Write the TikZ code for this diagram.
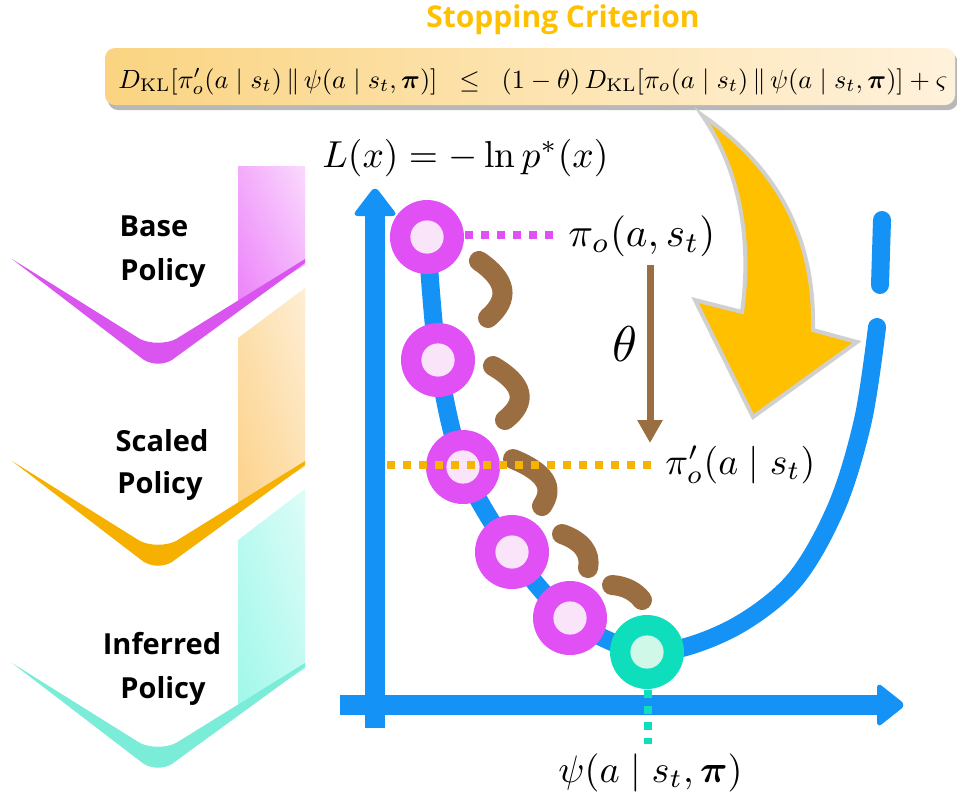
\documentclass[tikz,border=0pt]{standalone}
\usepackage{fontspec}
\usepackage{amsmath}
\usepackage{graphicx}
\newfontfamily\osans{Open Sans}
\usetikzlibrary{arrows.meta,shadings}
\definecolor{axblue}{RGB}{20,146,245}
\definecolor{magc}{RGB}{224,80,245}
\definecolor{magin}{RGB}{250,228,250}
\definecolor{tealc}{RGB}{14,222,188}
\definecolor{tealin}{RGB}{208,248,232}
\definecolor{brownc}{RGB}{155,110,65}
\definecolor{goldc}{RGB}{255,192,0}
\definecolor{orangedot}{RGB}{245,180,0}
\definecolor{chevP}{RGB}{218,84,240}
\definecolor{chevO}{RGB}{245,176,0}
\definecolor{chevT}{RGB}{122,236,216}
\definecolor{boxL}{RGB}{250,212,130}
\definecolor{boxR}{RGB}{255,242,220}
\definecolor{arrowborder}{RGB}{208,208,208}
\definecolor{pkLL}{RGB}{236,130,250}
\definecolor{pkUR}{RGB}{250,218,253}
\definecolor{pkM}{RGB}{243,172,251}
\definecolor{orLL}{RGB}{253,210,138}
\definecolor{orUR}{RGB}{254,238,212}
\definecolor{orM}{RGB}{253,224,175}
\definecolor{tlLL}{RGB}{160,248,234}
\definecolor{tlUR}{RGB}{222,252,248}
\definecolor{tlM}{RGB}{190,250,241}
\begin{document}
\begin{tikzpicture}[x=0.5pt,y=-0.5pt,
  pcirc/.style={circle, fill=magc, minimum size=37pt, inner sep=0pt,
    path picture={\fill[magin] (path picture bounding box.center) circle (8.3pt);}},
  tcirc/.style={circle, fill=tealc, minimum size=37pt, inner sep=0pt,
    path picture={\fill[tealin] (path picture bounding box.center) circle (8.3pt);}},
  dotline/.style={line width=4pt, dash pattern=on 4pt off 4pt},
  brownarc/.style={brownc, line width=10pt, line cap=round},
  bluecurve/.style={axblue, line width=9pt, line cap=round},
  axisline/.style={axblue, line width=10pt},
  policytext/.style={anchor=base, inner sep=0pt, font=\osans\bfseries\fontsize{14.5}{14.5}\selectfont},
  mathlabel/.style={anchor=base west, inner sep=0pt}]
\useasboundingbox (0,0) rectangle (957,799);
\fill[white] (0,0) rectangle (957,799);

% ---------- left panel ----------
\shade[lower left=pkLL, upper right=pkUR, upper left=pkM, lower right=pkM]
  (238,166) -- (305,166) -- (305,265) -- (238,305) -- cycle;
\shade[lower left=orLL, upper right=orUR, upper left=orM, lower right=orM]
  (238,338) -- (305,288) -- (305,467) -- (238,507) -- cycle;
\shade[lower left=tlLL, upper right=tlUR, upper left=tlM, lower right=tlM]
  (238,540) -- (305,489) -- (305,669) -- (238,709) -- cycle;

\begin{scope}[shift={(0,259)}]
  \fill[chevP] (12,0) -- (140,80) .. controls (150,85) and (166,85) .. (176,80) -- (305,0) -- (305,4)
    -- (176,98) .. controls (166,107) and (150,107) .. (140,98) -- cycle;
\end{scope}
\begin{scope}[shift={(0,461)}]
  \fill[chevO] (12,0) -- (140,80) .. controls (150,85) and (166,85) .. (176,80) -- (305,0) -- (305,4)
    -- (176,98) .. controls (166,107) and (150,107) .. (140,98) -- cycle;
\end{scope}
\begin{scope}[shift={(0,663)}]
  \fill[chevT] (12,0) -- (140,80) .. controls (150,85) and (166,85) .. (176,80) -- (305,0) -- (305,4)
    -- (176,98) .. controls (166,107) and (150,107) .. (140,98) -- cycle;
\end{scope}

\node[policytext] (base1) at (154,236) {Base};
\node[policytext] (base2) at (163,280) {Policy};
\node[policytext] (scal1) at (162,451) {Scaled};
\node[policytext] (scal2) at (160,493) {Policy};
\node[policytext] (inf1) at (162,654) {Inferred};
\node[policytext] (inf2) at (163,698) {Policy};

% ---------- title and criterion ----------
\node[anchor=base, inner sep=0pt, text=goldc, font=\osans\bfseries\fontsize{15}{15}\selectfont] (title) at (563,27) {Stopping Criterion};
\fill[black!28, rounded corners=5pt] (108,53) rectangle (958,110);
\shade[left color=boxL, right color=boxR, rounded corners=5pt] (105,48) rectangle (955,105);
\node[mathlabel] (crit) at (118,88) {\resizebox{414.5pt}{!}{$D_{\mathrm{KL}}[\pi'_o(a\mid s_t)\,\|\,\psi(a\mid s_t,\boldsymbol{\pi})]\;\;\leq\;\;(1-\theta)\,D_{\mathrm{KL}}[\pi_o(a\mid s_t)\,\|\,\psi(a\mid s_t,\boldsymbol{\pi})]+\varsigma$}};

% ---------- yellow curved arrow ----------
\filldraw[fill=goldc, draw=arrowborder, line width=2pt, line join=miter]
  (702,115) .. controls (780,170) and (815,240) .. (813,330) -- (857,342) -- (753,417) -- (695,300)
  -- (742,312) .. controls (752,240) and (740,170) .. (702,115) -- cycle;

% ---------- axes ----------
\coordinate (yb) at (375,728);
\coordinate (yt) at (375,214);
\coordinate (xl) at (340,705);
\coordinate (xr) at (879,705);
\draw[axisline] (yb) -- (yt);
\fill[axblue, rounded corners=3pt] (352,216) -- (398,216) -- (375,186) -- cycle;
\draw[axisline] (xl) -- (xr);
\fill[axblue, rounded corners=3pt] (877,682) -- (877,728) -- (906,705) -- cycle;

\node[mathlabel] (lx) at (322,167) {\resizebox{143pt}{!}{$L(x) = -\ln p^*(x)$}};

% ---------- curve ----------
\draw[bluecurve] plot[smooth, tension=0.55] coordinates {(427,237) (438,360) (463,467) (512,552) (570,618) (647,652) (725,632) (792,583) (836,508) (863,420) (877,327)};
\coordinate (ua) at (882,220);
\coordinate (ub) at (880,285);
\draw[bluecurve] (ua) -- (ub);

% ---------- brown arcs ----------
\draw[brownarc] (479,261) .. controls (507,280) and (510,299) .. (488,318);
\draw[brownarc] (493,366) .. controls (524,384) and (528,402) .. (505,420);
\draw[brownarc] (513,459) .. controls (545,472) and (555,487) .. (542,506);
\draw[brownarc] (562,534) .. controls (582,541) and (591,553) .. (588,568);
\draw[brownarc] (612,585) .. controls (626,586) and (636,592) .. (642,600);

% ---------- circles ----------
\node[pcirc] (c1) at (427,237) {};
\node[pcirc] (c2) at (438,360) {};
\node[pcirc] (c3) at (463,467) {};
\node[pcirc] (c4) at (512,552) {};
\node[pcirc] (c5) at (570,618) {};
\node[tcirc] (ct) at (647,652) {};

% ---------- dotted guides ----------
\coordinate (md) at (555,235);
\draw[dotline, magc] (465,235) -- (md);
\coordinate (ol) at (387,465);
\coordinate (orr) at (657,465);
\draw[dotline, orangedot] (ol) -- (orr);
\coordinate (td) at (648,744);
\draw[dotline, tealc] (648,690) -- (td);

% ---------- theta arrow ----------
\coordinate (thA) at (650,265);
\coordinate (thB) at (650,443);
\draw[brownc, line width=3.5pt, -{Triangle[width=12pt,length=11.5pt]}] (thA) -- (thB);
\node[mathlabel] (theta) at (612,361) {\resizebox{12.5pt}{!}{$\theta$}};

% ---------- labels ----------
\node[mathlabel] (pio) at (568,246) {\resizebox{73.5pt}{!}{$\pi_o(a, s_t)$}};
\node[mathlabel] (piop) at (665,474) {\resizebox{75pt}{!}{$\pi'_o(a\mid s_t)$}};
\node[mathlabel] (psi) at (558,782) {\resizebox{92pt}{!}{$\psi(a\mid s_t,\boldsymbol{\pi})$}};
\end{tikzpicture}
\end{document}
